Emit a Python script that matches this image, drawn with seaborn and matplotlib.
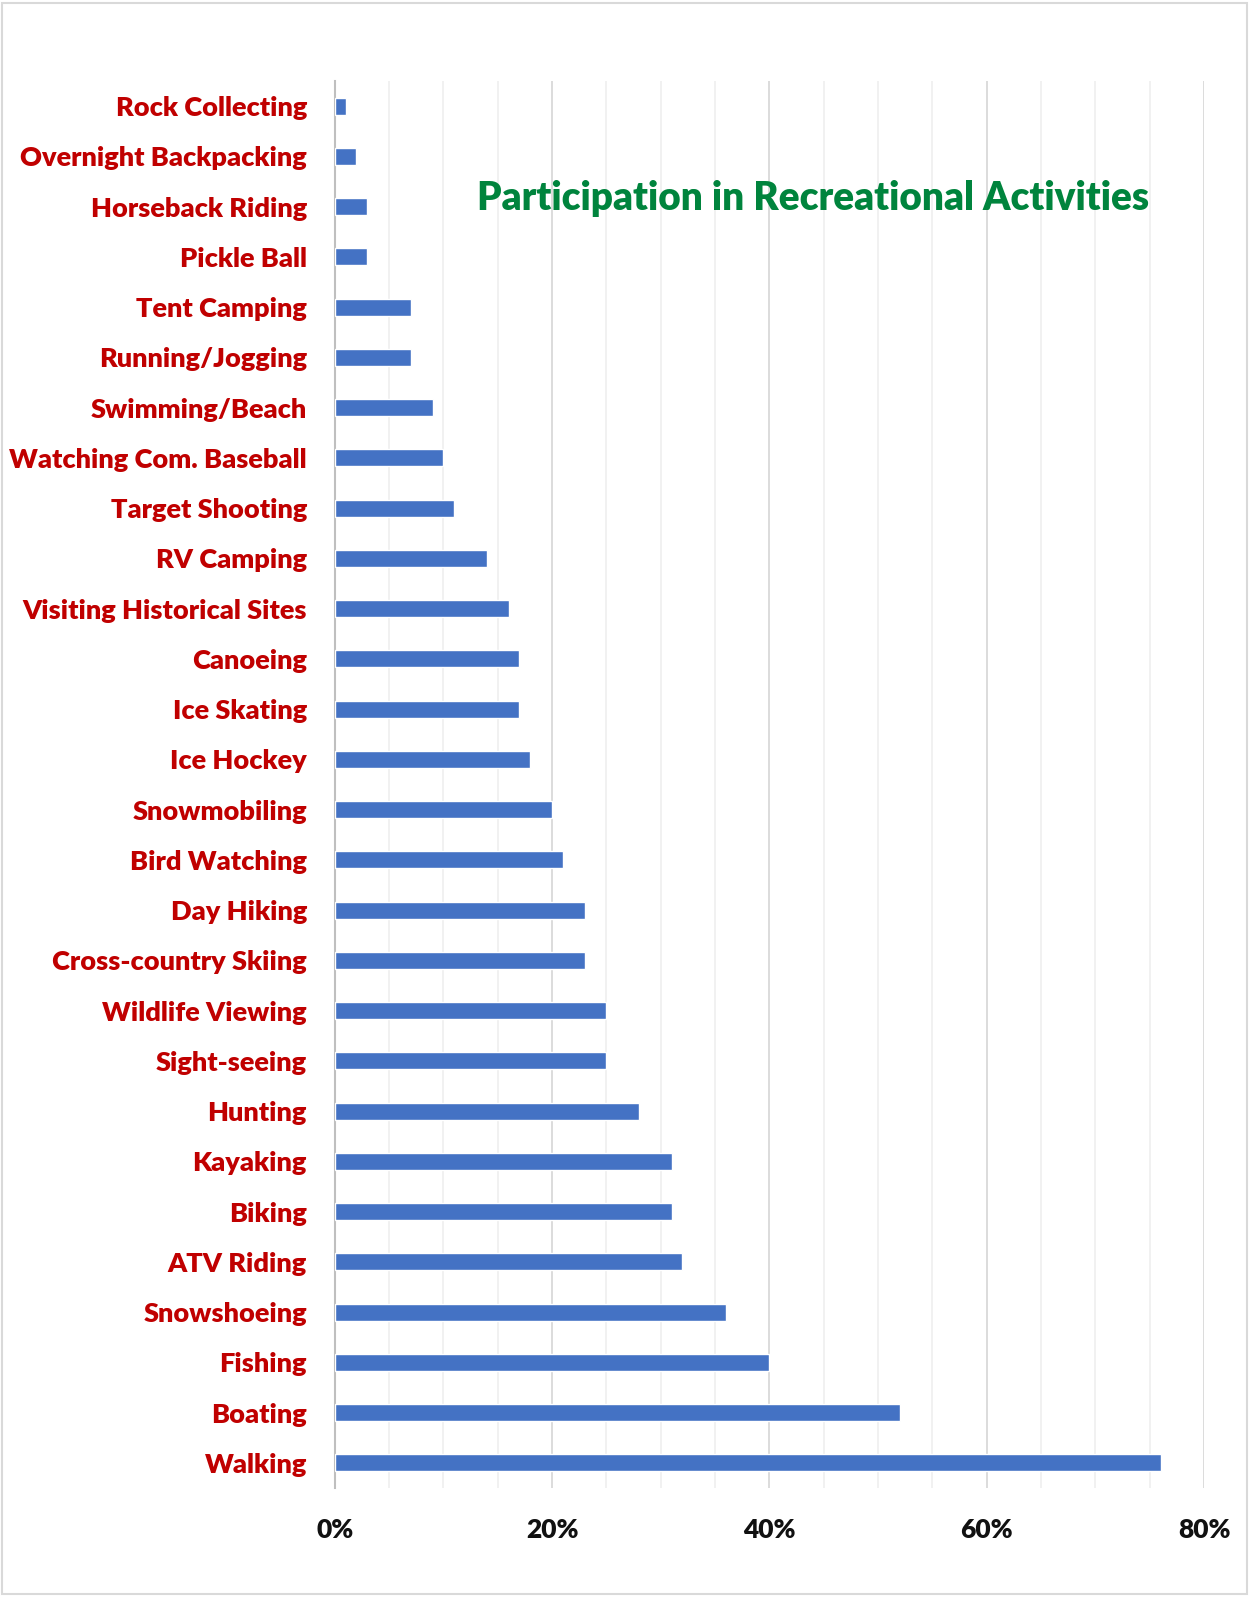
import pandas as pd
import seaborn as sns
import matplotlib.pyplot as plt
from matplotlib.ticker import MultipleLocator, PercentFormatter
from matplotlib.patches import Rectangle

# ---------------------------------
# Data
# ---------------------------------
activities = ['Rock Collecting', 'Overnight Backpacking', 'Horseback Riding',
              'Pickle Ball', 'Tent Camping', 'Running/Jogging',
              'Swimming/Beach', 'Watching Com. Baseball', 'Target Shooting',
              'RV Camping', 'Visiting Historical Sites', 'Canoeing',
              'Ice Skating', 'Ice Hockey', 'Snowmobiling', 'Bird Watching',
              'Day Hiking', 'Cross-country Skiing', 'Wildlife Viewing',
              'Sight-seeing', 'Hunting', 'Kayaking', 'Biking', 'ATV Riding',
              'Snowshoeing', 'Fishing', 'Boating', 'Walking']
participation = [1, 2, 3, 3, 7, 7, 9, 10, 11, 14, 16, 17, 17, 18, 20, 21,
                 23, 23, 25, 25, 28, 31, 31, 32, 36, 40, 52, 76]
title = 'Participation in Recreational Activities'

df = pd.DataFrame({'activity': activities, 'pct': participation})

# ---------------------------------
# Plot
# ---------------------------------
sns.set_theme(style="white")
plt.rcParams['font.family'] = ['Lato', 'DejaVu Sans']

f = plt.figure(figsize=(12.49, 15.97), dpi=100)
ax = f.add_axes([0.268, 0.0683, 0.696, 0.881])

sns.barplot(data=df, x='pct', y='activity', color='#4472C4',
            saturation=1, width=0.34, ax=ax, zorder=3)

ax.set_xlim(0, 80)
ax.set_ylim(27.5, -0.5)
ax.xaxis.set_major_locator(MultipleLocator(20))
ax.xaxis.set_minor_locator(MultipleLocator(5))
ax.xaxis.set_major_formatter(PercentFormatter(decimals=0))
ax.grid(axis='x', which='major', color='#D9D9D9', linewidth=1.3, zorder=0)
ax.grid(axis='x', which='minor', color='#F0F0F0', linewidth=1.3, zorder=0)
ax.set_axisbelow(True)
sns.despine(ax=ax, top=True, right=True, bottom=True, left=False)
ax.spines['left'].set_color('#BFBFBF')
ax.spines['left'].set_linewidth(1.5)
ax.tick_params(axis='both', which='both', length=0)
ax.tick_params(axis='x', pad=22)
ax.tick_params(axis='y', pad=20)

for lbl in ax.get_yticklabels():
    lbl.set_fontsize(19.5)
    lbl.set_fontweight('heavy')
    lbl.set_color('#C00000')
for lbl in ax.get_xticklabels():
    lbl.set_fontsize(19)
    lbl.set_fontweight('heavy')
    lbl.set_color('#111111')

ax.set(xlabel='', ylabel='')

f.text(0.651, 0.876, title, fontsize=27.9, fontweight='heavy',
       color='#00843D', ha='center', va='center')

# Figure border
f.patches.append(Rectangle((0.002, 0.002), 0.996, 0.996,
                           transform=f.transFigure, fill=False,
                           edgecolor='#D9D9D9', linewidth=1.5))

f.savefig('out.png', dpi=100)
